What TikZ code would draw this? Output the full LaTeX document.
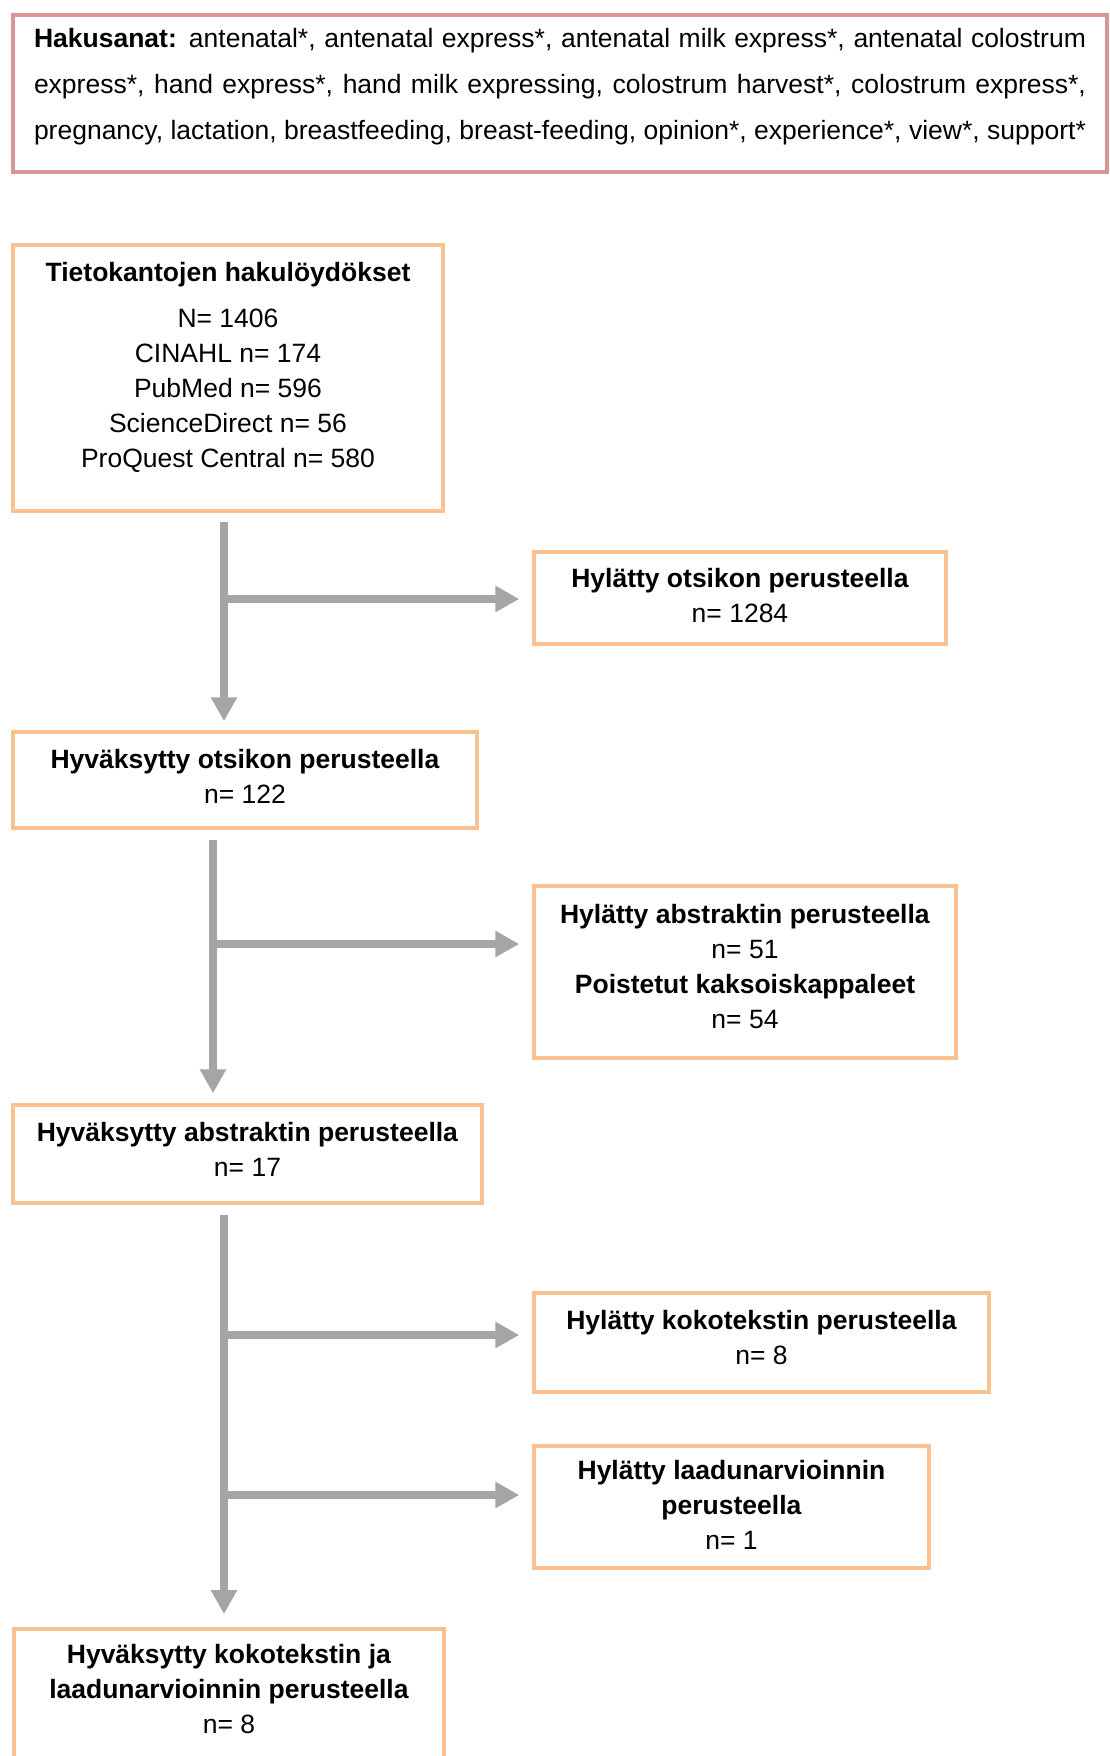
\documentclass[tikz,border=0pt]{standalone}
\usepackage{fontspec}
\setmainfont{Liberation Sans}
\usetikzlibrary{arrows.meta}
\definecolor{boxorange}{HTML}{FAC08F}
\definecolor{boxpink}{HTML}{D99694}
\definecolor{arrgray}{HTML}{A5A5A5}
\newcommand{\dropdepth}[1]{\rule[-#1]{0pt}{#1}}
\tikzset{
  box/.style={draw=boxorange, line width=3.5pt, align=center, inner sep=0pt,
    font=\fontsize{26.5}{35}\selectfont},
  topbox/.style={draw=boxpink, line width=3.5pt, align=left, inner sep=0pt,
    font=\fontsize{26.5}{46}\selectfont},
  arr/.style={draw=arrgray, line width=8pt, -{Triangle[width=25pt,length=24pt]}}
}
\begin{document}
\begin{tikzpicture}[x=1pt,y=-1pt]
\useasboundingbox (0,0) rectangle (1109,1756);
\fill[white] (0,0) rectangle (1109,1756);

\node[topbox, minimum width=1094pt, minimum height=157pt] (top) at (560,93.5) {%
\hbox to 1052pt{\textbf{Hakusanat:} antenatal*, antenatal express*, antenatal milk express*, antenatal colostrum}\\
\hbox to 1052pt{express*, hand express*, hand milk expressing, colostrum harvest*, colostrum express*,}\\
\hbox to 1052pt{pregnancy, lactation, breastfeeding, breast-feeding, opinion*, experience*, view*, support*\dropdepth{19pt}}};

\node[box, minimum width=430pt, minimum height=266pt] (b1) at (228,378) {%
\textbf{Tietokantojen hakulöydökset}\\[11pt]
N= 1406\\ CINAHL n= 174\\ PubMed n= 596\\ ScienceDirect n= 56\\
ProQuest Central n= 580\dropdepth{26pt}};

\node[box, minimum width=412pt, minimum height=92pt] (b2) at (740,598) {%
\textbf{Hylätty otsikon perusteella}\\ n= 1284\dropdepth{6pt}};

\node[box, minimum width=464pt, minimum height=96pt] (b3) at (245,780) {%
\textbf{Hyväksytty otsikon perusteella}\\ n= 122\dropdepth{8pt}};

\node[box, minimum width=422pt, minimum height=172pt] (b4) at (745,972) {%
\textbf{Hylätty abstraktin perusteella}\\ n= 51\\
\textbf{Poistetut kaksoiskappaleet}\\ n= 54\dropdepth{11pt}};

\node[box, minimum width=469pt, minimum height=98pt] (b5) at (247.5,1154) {%
\textbf{Hyväksytty abstraktin perusteella}\\ n= 17\dropdepth{10pt}};

\node[box, minimum width=455pt, minimum height=99pt] (b6) at (761.5,1342.5) {%
\textbf{Hylätty kokotekstin perusteella}\\ n= 8\dropdepth{10pt}};

\node[box, minimum width=395pt, minimum height=122pt] (b7) at (731.5,1507) {%
\textbf{Hylätty laadunarvioinnin}\\ \textbf{perusteella}\\ n= 1\dropdepth{5pt}};

\node[box, minimum width=430pt, minimum height=200pt, anchor=north] (b8) at (229,1627) {%
\textbf{Hyväksytty kokotekstin ja}\\ \textbf{laadunarvioinnin perusteella}\\
n= 8\dropdepth{80pt}};

\coordinate (v1) at (224,522);
\coordinate (h1) at (224,599);
\coordinate (v2) at (213,840);
\coordinate (h2) at (213,944);
\coordinate (v3) at (224,1215);
\coordinate (h3) at (224,1335);
\coordinate (h4) at (224,1495);

\draw[arr, shorten >=9pt] (v1) -- (v1 |- b3.north);
\draw[arr, shorten >=13pt] (h1) -- (h1 -| b2.west);
\draw[arr, shorten >=10pt] (v2) -- (v2 |- b5.north);
\draw[arr, shorten >=13pt] (h2) -- (h2 -| b4.west);
\draw[arr, shorten >=13pt] (v3) -- (v3 |- b8.north);
\draw[arr, shorten >=13pt] (h3) -- (h3 -| b6.west);
\draw[arr, shorten >=13pt] (h4) -- (h4 -| b7.west);
\end{tikzpicture}
\end{document}
